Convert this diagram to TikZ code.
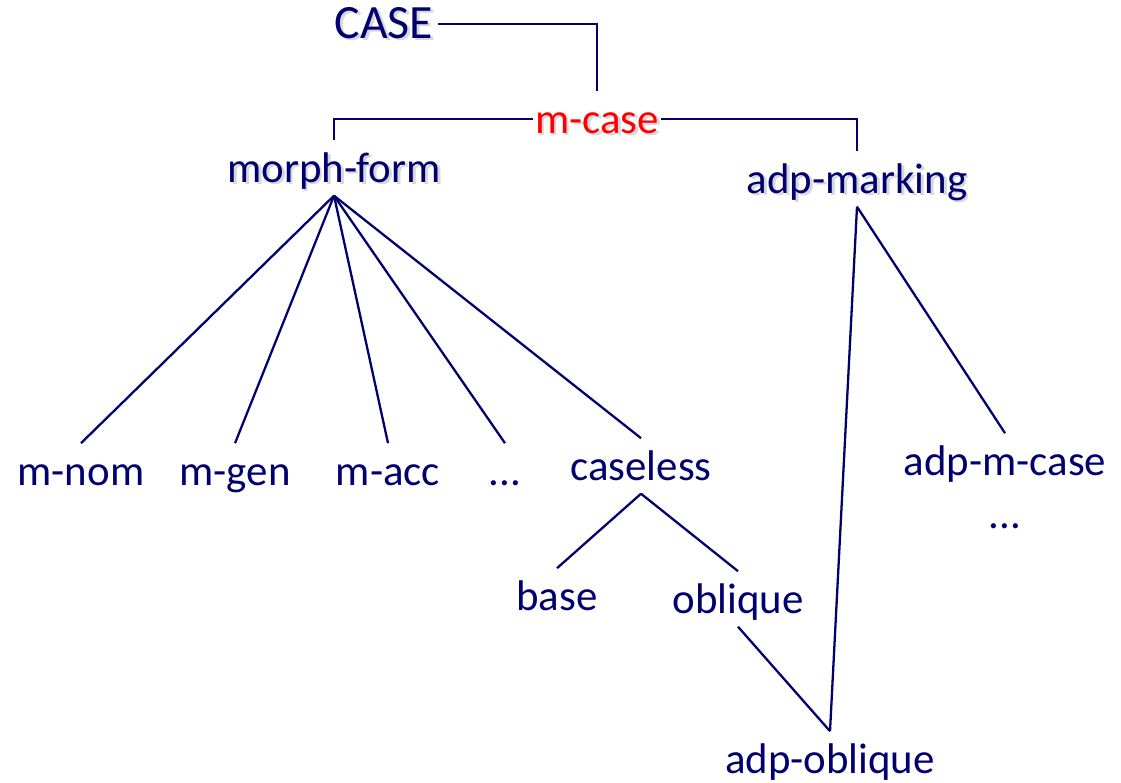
\documentclass[tikz,border=0pt]{standalone}
\usepackage{fontspec}
\setmainfont{Carlito}
\usepackage{tikz}
\usetikzlibrary{positioning}
\definecolor{navy}{RGB}{0,0,110}
\definecolor{shade}{RGB}{215,215,222}

% soft drop shadow for the upper labels
\newcommand{\shadowed}[1]{\makebox[0pt][l]{\hspace{0.8pt}\raisebox{-0.8pt}{\color{shade}#1}}#1}

\begin{document}
\begin{tikzpicture}[
    lbl/.style={text=navy, font=\fontsize{12.2}{14}\selectfont, anchor=base,
        inner xsep=0.5pt, inner ysep=0pt, text height=11.7pt, text depth=3.7pt},
    edge/.style={draw=navy, line width=0.65pt}
]
    \useasboundingbox (0,0) rectangle (11.21,-7.82);

    % top of the hierarchy
    \node[lbl, font=\fontsize{13.6}{15}\selectfont, inner xsep=1.2pt] (case) at (3.84,-0.38) {\shadowed{CASE}};
    \node[lbl, text=red] (mcase) at (5.97,-1.33) {\shadowed{m-case}};
    \node[lbl] (morph) at (3.34,-1.82) {\shadowed{morph-form}};
    \node[lbl] (adp) at (8.57,-1.93) {\shadowed{adp-marking}};

    % morphological forms
    \node[lbl] (mnom) at (0.81,-4.85) {m-nom};
    \node[lbl] (mgen) at (2.35,-4.85) {m-gen};
    \node[lbl] (macc) at (3.88,-4.85) {m-acc};
    \node[lbl] (mdots) at (5.05,-4.85) {...};
    \node[lbl] (caseless) at (6.41,-4.80) {caseless};
    \node[lbl] (base) at (5.57,-6.10) {base};
    \node[lbl] (oblique) at (7.38,-6.13) {oblique};

    % adpositional marking
    \node[lbl] (adpm) at (10.05,-4.75) {adp-m-case};
    \node[lbl] (adpdots) at (10.05,-5.28) {...};
    \node[lbl] (adpobl) at (8.30,-7.73) {adp-oblique};

    \draw[edge] (case.east) -| (mcase.north);
    \draw[edge] (morph.north) |- (mcase.west);
    \draw[edge] (mcase.east) -| (adp.north);

    \foreach \child in {mnom,mgen,macc,mdots,caseless}
        \draw[edge] (morph.south) -- (\child.north);
    \draw[edge] (caseless.south) -- (base.north);
    \draw[edge] (caseless.south) -- (oblique.north);

    \draw[edge] (adp.south) -- (adpm.north);
    \draw[edge] (adp.south) -- (adpobl.north);
    \draw[edge] (oblique.south) -- (adpobl.north);
\end{tikzpicture}
\end{document}
